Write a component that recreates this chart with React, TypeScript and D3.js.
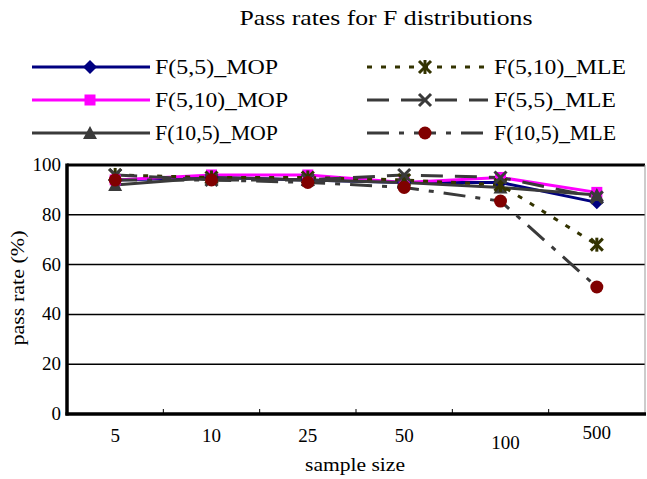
import React from "react";
import * as d3 from "d3";

const categories = ["5", "10", "25", "50", "100", "500"];
const seriesNames = ["F(5,5)_MOP", "F(5,10)_MOP", "F(10,5)_MOP", "F(5,10)_MLE", "F(5,5)_MLE", "F(10,5)_MLE"];
const f55MOP = [94, 95, 94, 93, 93, 85];
const f510MOP = [94, 96, 96, 93, 95, 89];
const f105MOP = [92, 95, 94, 93, 91, 88];
const f510MLE = [96, 95, 95, 94, 92, 68];
const f55MLE = [96, 94, 94, 96, 95, 87];
const f105MLE = [94, 94, 93, 91, 85.5, 51];
const yTicks = [0, 20, 40, 60, 80, 100];

type Style = { color: string; dash?: string; marker: string; markerColor: string };
const styles: Style[] = [
  { color: "#000080", marker: "diamond", markerColor: "#000080" },
  { color: "#ff00ff", marker: "square", markerColor: "#ff00ff" },
  { color: "#3a3a3a", marker: "triangle", markerColor: "#3a3a3a" },
  { color: "#333300", dash: "5,9", marker: "asterisk", markerColor: "#333300" },
  { color: "#3a3a3a", dash: "22,12", marker: "x", markerColor: "#3a3a3a" },
  { color: "#3a3a3a", dash: "22,10,5,10", marker: "circle", markerColor: "#800000" },
];
const allData = [f55MOP, f510MOP, f105MOP, f510MLE, f55MLE, f105MLE];

function Marker({ type, x, y, color }: { type: string; x: number; y: number; color: string }) {
  const s = 7;
  switch (type) {
    case "diamond":
      return <path d={`M${x},${y - s} L${x + s},${y} L${x},${y + s} L${x - s},${y} Z`} fill={color} />;
    case "square":
      return <rect x={x - 5.5} y={y - 5.5} width={11} height={11} fill={color} />;
    case "triangle":
      return <path d={`M${x},${y - 7} L${x + 7},${y + 6} L${x - 7},${y + 6} Z`} fill={color} />;
    case "asterisk":
      return (
        <g stroke={color} strokeWidth={3}>
          <line x1={x - 6} y1={y - 6} x2={x + 6} y2={y + 6} />
          <line x1={x + 6} y1={y - 6} x2={x - 6} y2={y + 6} />
          <line x1={x} y1={y - 7} x2={x} y2={y + 7} />
        </g>
      );
    case "x":
      return (
        <g stroke={color} strokeWidth={3}>
          <line x1={x - 6} y1={y - 6} x2={x + 6} y2={y + 6} />
          <line x1={x + 6} y1={y - 6} x2={x - 6} y2={y + 6} />
        </g>
      );
    case "circle":
      return <circle cx={x} cy={y} r={6.5} fill={color} />;
  }
  return null;
}

export default function App() {
  const W = 647, H = 479;
  const left = 67, right = 645, top = 165, bottom = 414;
  const x = d3.scaleBand<string>().domain(categories).range([left, right]);
  const y = d3.scaleLinear().domain([0, 100]).range([bottom, top]);
  const line = d3
    .line<number>()
    .x((_, i) => (x(categories[i]) as number) + x.bandwidth() / 2)
    .y((d) => y(d));
  const font = "Liberation Serif";
  const labelDy = [0, 0, 0, 0, 7, -3];

  const legendLeft = { x1: 32, x2: 150, mx: 90, tx: 155 };
  const legendRight = { x1: 367, x2: 488, mx: 425, tx: 494 };
  const rows = [67, 100, 133];
  const legendItems = [
    { s: 0, col: legendLeft, row: 0, w: 123 },
    { s: 1, col: legendLeft, row: 1, w: 133 },
    { s: 2, col: legendLeft, row: 2, w: 123 },
    { s: 3, col: legendRight, row: 0, w: 132 },
    { s: 4, col: legendRight, row: 1, w: 122 },
    { s: 5, col: legendRight, row: 2, w: 122 },
  ];

  return (
    <svg width={W} height={H} style={{ position: "absolute", left: 0, top: 0, background: "#fff", fontFamily: font }}>
      <rect x={0} y={0} width={W} height={H} fill="#fff" />
      <text x={386} y={25} fontSize={21} textAnchor="middle" textLength={293} lengthAdjust="spacingAndGlyphs" fill="#000">
        Pass rates for F distributions
      </text>

      {legendItems.map((it) => {
        const st = styles[it.s];
        const yy = rows[it.row];
        return (
          <g key={it.s}>
            <line x1={it.col.x1} x2={it.col.x2} y1={yy} y2={yy} stroke={st.color} strokeWidth={3} strokeDasharray={st.dash} />
            <Marker type={st.marker} x={it.col.mx} y={yy} color={st.markerColor} />
            <text x={it.col.tx} y={yy + 7} fontSize={20} textLength={it.w} lengthAdjust="spacingAndGlyphs" fill="#000">
              {seriesNames[it.s]}
            </text>
          </g>
        );
      })}

      {/* gridlines */}
      {yTicks.filter((t) => t > 0 && t < 100).map((t) => (
        <line key={t} x1={left} x2={right} y1={y(t)} y2={y(t)} stroke="#000" strokeWidth={1.5} />
      ))}
      <line x1={left} x2={right} y1={top} y2={top} stroke="#000" strokeWidth={3} />
      <line x1={right} x2={right} y1={top} y2={bottom} stroke="#999" strokeWidth={1} />

      {/* series */}
      {allData.map((d, si) => (
        <path key={si} d={line(d) as string} fill="none" stroke={styles[si].color} strokeWidth={3} strokeDasharray={styles[si].dash} />
      ))}
      {allData.map((d, si) =>
        d.map((v, i) => (
          <Marker key={`${si}-${i}`} type={styles[si].marker} x={(x(categories[i]) as number) + x.bandwidth() / 2} y={y(v)} color={styles[si].markerColor} />
        ))
      )}

      {/* axes */}
      <line x1={left} x2={left} y1={top - 1.5} y2={bottom + 1.5} stroke="#000" strokeWidth={3.5} />
      <line x1={left - 1.5} x2={right + 1} y1={bottom} y2={bottom} stroke="#000" strokeWidth={3.5} />
      {categories.slice(1).map((c) => (
        <line key={c} x1={x(c) as number} x2={x(c) as number} y1={bottom} y2={bottom - 5} stroke="#000" strokeWidth={1} />
      ))}
      {yTicks.map((t) => (
        <text key={t} x={61} y={y(t) + 6} fontSize={19} textAnchor="end" fill="#000">
          {t}
        </text>
      ))}
      {categories.map((c, i) => (
        <text key={c} x={(x(c) as number) + x.bandwidth() / 2 + (i === 4 ? 5 : 0)} y={442 + labelDy[i]} fontSize={19} textAnchor="middle" fill="#000">
          {c}
        </text>
      ))}
      <text x={355} y={471} fontSize={19} textAnchor="middle" textLength={100} lengthAdjust="spacingAndGlyphs" fill="#000">
        sample size
      </text>
      <text transform="translate(24,288) rotate(-90)" fontSize={19} textAnchor="middle" textLength={115} lengthAdjust="spacingAndGlyphs" fill="#000">
        pass rate (%)
      </text>
    </svg>
  );
}
